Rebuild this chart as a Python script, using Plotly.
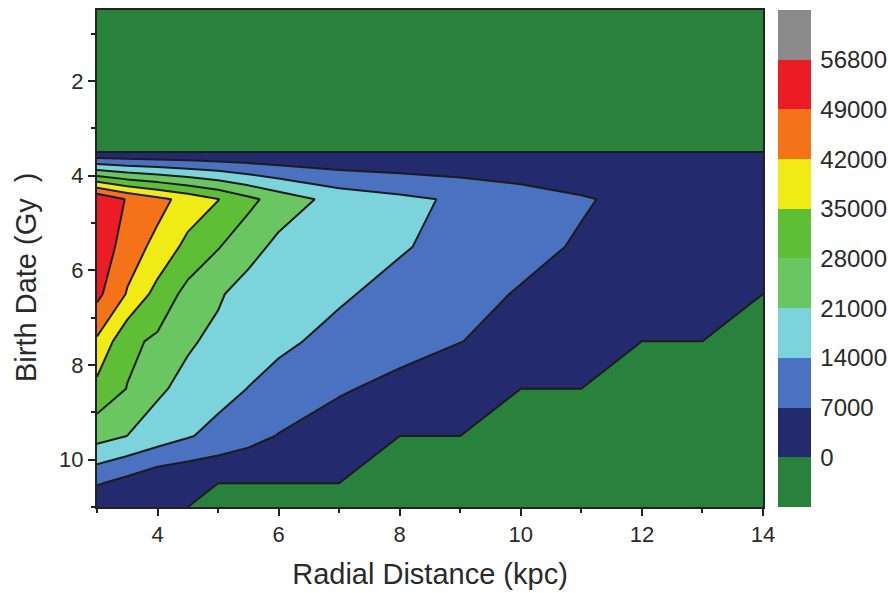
import plotly.graph_objects as go

# Grid (radial distance in kpc, birth date in Gyr)
radial_kpc = [3, 3.5, 4, 4.5, 5, 5.5, 6, 7, 8, 9, 10, 11, 12, 13, 14]
birth_gyr = [0.5, 1.5, 2.5, 3.5, 4.5, 5.5, 6.5, 7.5, 8.5, 9.5, 10.5, 11]

# Values per birth-date row
row_0_5 = [0] * 15
row_1_5 = [0] * 15
row_2_5 = [0] * 15
row_3_5 = [0] * 15
row_4_5 = [55500, 48400, 44000, 39600, 35200, 29800, 25000, 18300, 15600, 12950, 10300, 7660, 5000, 3500, 2500]
row_5_5 = [55000, 45000, 40300, 32900, 28400, 23800, 19200, 16900, 14600, 11800, 9030, 6250, 4200, 2800, 1500]
row_6_5 = [50750, 41500, 32500, 25900, 21900, 17900, 16800, 14800, 12000, 9250, 6470, 4500, 3000, 1500, 0]
row_7_5 = [41000, 29500, 26850, 21900, 19300, 17300, 15200, 12200, 9670, 7130, 4600, 2000, 0, 0, 0]
row_8_5 = [33000, 27800, 22100, 18950, 16400, 13850, 11850, 7770, 4980, 2490, 0, 0, 0, 0, 0]
row_9_5 = [23600, 20950, 17760, 14570, 11870, 9280, 6690, 3400, 0, 0, 0, 0, 0, 0, 0]
row_10_5 = [7600, 4540, 1200, 500, 0, 0, 0, 0, 0, 0, 0, 0, 0, 0, 0]
row_11 = [100, 80, 50, 0, 0, 0, 0, 0, 0, 0, 0, 0, 0, 0, 0]

z_rows = [row_0_5, row_1_5, row_2_5, row_3_5, row_4_5, row_5_5, row_6_5,
          row_7_5, row_8_5, row_9_5, row_10_5, row_11]

level_start = 0
level_end = 56000
level_step = 7000
colorbar_vals = [0, 7000, 14000, 21000, 28000, 35000, 42000, 49000, 56000]
colorbar_text = ["0", "7000", "14000", "21000", "28000", "35000", "42000", "49000", "56800"]

band_colors = ["#28823b", "#232a6d", "#4a72c0", "#7bd4dc", "#6ac660",
               "#5ebf37", "#f0eb15", "#f47318", "#ec1c24", "#8b8b8b"]
n = len(band_colors)
# continuous scale whose knots sit at the band centres (used by the contour fills)
fill_scale = [[i / (n - 1), c] for i, c in enumerate(band_colors)]
# stepped scale for the colour bar (one full band per level interval)
step_scale = []
for i, c in enumerate(band_colors):
    step_scale.append([i / n, c])
    step_scale.append([(i + 1) / n, c])

text_color = "#2a2a2a"
font_family = "Arial, Liberation Sans, sans-serif"

fig = go.Figure()
fig.add_trace(go.Contour(
    x=radial_kpc, y=birth_gyr, z=z_rows,
    autocontour=False,
    contours=dict(start=level_start, end=level_end, size=level_step,
                  coloring="fill", showlines=False),
    line=dict(width=0, smoothing=0),
    colorscale=fill_scale,
    showscale=False,
    hoverinfo="skip",
))
fig.add_trace(go.Contour(
    x=radial_kpc, y=birth_gyr, z=z_rows,
    autocontour=False,
    contours=dict(start=level_start, end=level_end, size=level_step,
                  coloring="none", showlines=True),
    line=dict(color="#1c1c1c", width=2, smoothing=0),
    showscale=False,
    hoverinfo="skip",
))
# colour bar carrier (no visible points)
fig.add_trace(go.Scatter(
    x=[None], y=[None], mode="markers",
    marker=dict(
        color=[0], colorscale=step_scale,
        cmin=level_start - level_step, cmax=level_end + level_step,
        showscale=True,
        colorbar=dict(
            x=(778 - 97) / 666, xanchor="left", xpad=0,
            y=0.5, yanchor="middle", len=1, lenmode="fraction", ypad=0,
            thickness=33, outlinewidth=0,
            tickmode="array", tickvals=colorbar_vals, ticktext=colorbar_text,
            ticks="outside", ticklen=5, tickcolor="rgba(0,0,0,0)",
            tickfont=dict(size=24, color=text_color, family=font_family),
        ),
    ),
    showlegend=False, hoverinfo="skip",
))

axis_common = dict(
    showline=True, linecolor="#222", linewidth=2, mirror=True,
    showgrid=False, zeroline=False,
    ticks="outside", ticklen=7, tickwidth=2, tickcolor="#222",
    tickfont=dict(size=22, color=text_color, family=font_family),
)

fig.update_layout(
    width=888, height=593,
    margin=dict(l=97, r=125, t=10, b=86, autoexpand=False),
    paper_bgcolor="white", plot_bgcolor="white",
    font=dict(family=font_family, color=text_color),
    showlegend=False,
    xaxis=dict(
        range=[3, 14], tickmode="linear", tick0=0, dtick=2,
        minor=dict(dtick=1, tick0=0, ticks="outside", ticklen=4, tickwidth=1.5, tickcolor="#222"),
        title=dict(text="Radial Distance (kpc)", font=dict(size=29, color=text_color), standoff=17),
        **axis_common,
    ),
    yaxis=dict(
        range=[11, 0.5], tickmode="linear", tick0=0, dtick=2,
        minor=dict(dtick=1, tick0=0, ticks="outside", ticklen=4, tickwidth=1.5, tickcolor="#222"),
        **axis_common,
    ),
    annotations=[dict(
        text="Birth Date (Gy\u00a0\u00a0)", textangle=-90,
        xref="paper", yref="paper", x=(26 - 97) / 666, y=(507 - 277) / 497,
        xanchor="center", yanchor="middle", showarrow=False,
        font=dict(size=29, color=text_color, family=font_family),
    )],
)

fig.write_html("out.html")
